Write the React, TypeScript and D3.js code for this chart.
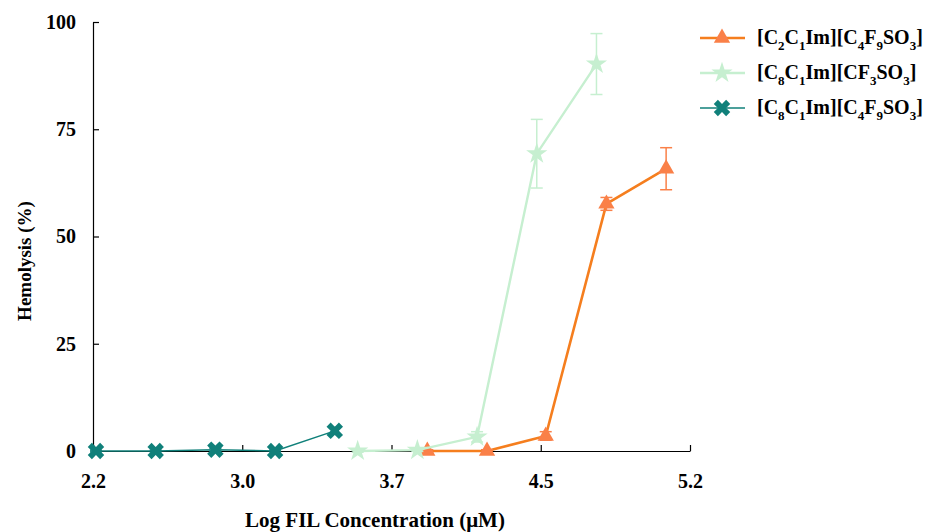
import React, { useEffect, useRef } from "react";
import * as d3 from "d3";

// Log concentration vs hemolysis (%), mean ± error
const c2c1C4F9X = [3.88, 4.18, 4.475, 4.78, 5.08];
const c2c1C4F9Y = [0, 0, 3.5, 57.6, 65.8];
const c2c1C4F9Err = [0.3, 0.3, 1.0, 1.5, 4.9];

const c8c1CF3X = [3.53, 3.83, 4.13, 4.43, 4.73];
const c8c1CF3Y = [0, 0.2, 3.3, 69.3, 90.2];
const c8c1CF3Err = [0.3, 0.3, 1.2, 8.0, 7.1];

const c8c1C4F9X = [2.215, 2.515, 2.815, 3.115, 3.415];
const c8c1C4F9Y = [0, 0, 0.3, 0, 4.7];
const c8c1C4F9Err = [0.2, 0.2, 0.3, 0.2, 0.8];

const xTicks = [2.2, 2.95, 3.7, 4.45, 5.2];
const xTickLabels = ["2.2", "3.0", "3.7", "4.5", "5.2"];
const yTicks = [0, 25, 50, 75, 100];

const FONT = "'Liberation Serif', 'DejaVu Serif', serif";

type Series = {
  xs: number[];
  ys: number[];
  err: number[];
  line: string;
  mark: string;
  lineWidth: number;
  symbol: d3.SymbolType;
  size: number;
  rotate: number;
  label: [string, string][];
};

const series: Series[] = [
  {
    xs: c2c1C4F9X, ys: c2c1C4F9Y, err: c2c1C4F9Err,
    line: "#f57e1e", mark: "#fa8048", lineWidth: 2.6,
    symbol: d3.symbolTriangle, size: 115, rotate: 0,
    label: [["[C", ""], ["2", "sub"], ["C", ""], ["1", "sub"], ["Im][C", ""], ["4", "sub"], ["F", ""], ["9", "sub"], ["SO", ""], ["3", "sub"], ["]", ""]],
  },
  {
    xs: c8c1CF3X, ys: c8c1CF3Y, err: c8c1CF3Err,
    line: "#c6efd0", mark: "#c6efd0", lineWidth: 2.4,
    symbol: d3.symbolStar, size: 140, rotate: 0,
    label: [["[C", ""], ["8", "sub"], ["C", ""], ["1", "sub"], ["Im][CF", ""], ["3", "sub"], ["SO", ""], ["3", "sub"], ["]", ""]],
  },
  {
    xs: c8c1C4F9X, ys: c8c1C4F9Y, err: c8c1C4F9Err,
    line: "#10807a", mark: "#10807a", lineWidth: 1.5,
    symbol: d3.symbolCross, size: 170, rotate: 45,
    label: [["[C", ""], ["8", "sub"], ["C", ""], ["1", "sub"], ["Im][C", ""], ["4", "sub"], ["F", ""], ["9", "sub"], ["SO", ""], ["3", "sub"], ["]", ""]],
  },
];

const App = () => {
  const ref = useRef<SVGSVGElement>(null);

  useEffect(() => {
    const svg = d3.select(ref.current);
    svg.selectAll("*").remove();

    const left = 93, right = 690, top = 22, bottom = 451;

    const x = d3.scaleLinear().domain([2.2, 5.2]).range([left, right]);
    const y = d3.scaleLinear().domain([0, 100]).range([bottom, top]);

    // axes
    const xAxis = svg
      .append("g")
      .attr("transform", `translate(0,${bottom})`)
      .call(
        d3.axisBottom(x)
          .tickValues(xTicks)
          .tickFormat((d, i) => xTickLabels[i])
          .tickSizeInner(-6)
          .tickSizeOuter(0)
          .tickPadding(23)
      );
    const yAxis = svg
      .append("g")
      .attr("transform", `translate(${left},0)`)
      .call(d3.axisLeft(y).tickValues(yTicks).tickSizeInner(-6).tickSizeOuter(0).tickPadding(17));

    [xAxis, yAxis].forEach((g) => {
      g.select(".domain").attr("stroke", "#000").attr("stroke-width", 1.2);
      g.selectAll(".tick line").attr("stroke", "#000").attr("stroke-width", 1.2);
      g.selectAll(".tick text")
        .attr("font-family", FONT)
        .attr("font-weight", "bold")
        .attr("font-size", 20)
        .attr("fill", "#000");
    });

    svg
      .append("text")
      .attr("x", 375)
      .attr("y", 527)
      .attr("text-anchor", "middle")
      .attr("font-family", FONT)
      .attr("font-weight", "bold")
      .attr("font-size", 21)
      .text("Log FIL Concentration (\u03bcM)");

    svg
      .append("text")
      .attr("transform", "translate(31,261) rotate(-90)")
      .attr("text-anchor", "middle")
      .attr("font-family", FONT)
      .attr("font-weight", "bold")
      .attr("font-size", 19)
      .text("Hemolysis (%)");

    const lineGen = d3
      .line<[number, number]>()
      .x((d) => x(d[0]))
      .y((d) => y(d[1]));

    series.forEach((s) => {
      const pts = s.xs.map((v, i) => [v, s.ys[i]] as [number, number]);
      const g = svg.append("g");

      g.append("path")
        .attr("d", lineGen(pts))
        .attr("fill", "none")
        .attr("stroke", s.line)
        .attr("stroke-width", s.lineWidth);

      // error bars
      pts.forEach((p, i) => {
        const cx = x(p[0]);
        const y1 = y(p[1] + s.err[i]);
        const y2 = y(p[1] - s.err[i]);
        const eb = g.append("g").attr("stroke", s.mark).attr("stroke-width", 1.5);
        eb.append("line").attr("x1", cx).attr("x2", cx).attr("y1", y1).attr("y2", y2);
        eb.append("line").attr("x1", cx - 6).attr("x2", cx + 6).attr("y1", y1).attr("y2", y1);
        eb.append("line").attr("x1", cx - 6).attr("x2", cx + 6).attr("y1", y2).attr("y2", y2);
      });

      g.selectAll("path.mk")
        .data(pts)
        .join("path")
        .attr("class", "mk")
        .attr("d", d3.symbol().type(s.symbol).size(s.size)())
        .attr("transform", (d) => `translate(${x(d[0])},${y(d[1])}) rotate(${s.rotate})`)
        .attr("fill", s.mark);
    });

    // legend
    const legend = svg.append("g");
    series.forEach((s, i) => {
      const ly = 38 + i * 35;
      const row = legend.append("g").attr("transform", `translate(0,${ly})`);
      row.append("line")
        .attr("x1", 700).attr("x2", 745).attr("y1", 0).attr("y2", 0)
        .attr("stroke", s.line).attr("stroke-width", s.lineWidth);
      row.append("path")
        .attr("d", d3.symbol().type(s.symbol).size(s.size)())
        .attr("transform", `translate(722,0) rotate(${s.rotate})`)
        .attr("fill", s.mark);
      const t = row.append("text")
        .attr("x", 757)
        .attr("y", 6)
        .attr("font-family", FONT)
        .attr("font-weight", "bold")
        .attr("font-size", 20)
        .attr("fill", "#000");
      let sub = false;
      s.label.forEach(([str, kind]) => {
        const isSub = kind === "sub";
        const ts = t.append("tspan").text(str);
        if (isSub) ts.attr("font-size", 13);
        if (isSub !== sub) ts.attr("dy", isSub ? 6 : -6);
        sub = isSub;
      });
    });
  }, []);

  return (
    <svg ref={ref} width={930} height={532} style={{ display: "block", position: "absolute", left: 0, top: 0, background: "#fff" }} />
  );
};

export default App;
